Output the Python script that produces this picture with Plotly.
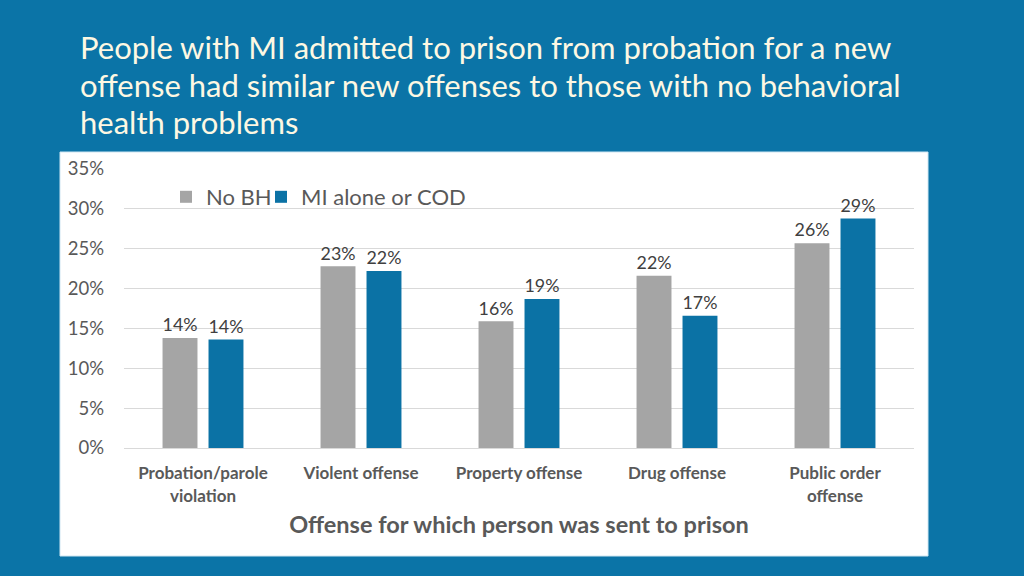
import plotly.graph_objects as go

categories = ["Probation/parole<br>violation", "Violent offense", "Property offense",
              "Drug offense", "Public order<br>offense"]
no_bh = [0.138, 0.228, 0.159, 0.216, 0.257]
mi_cod = [0.136, 0.222, 0.187, 0.166, 0.288]
series_names = ["No BH", "MI alone or COD"]
y_ticks = [0, 0.05, 0.10, 0.15, 0.20, 0.25, 0.30, 0.35]
title_lines = ["People with MI admitted to prison from probation for a new",
               "offense had similar new offenses to those with no behavioral",
               "health problems"]

BG = "#0b74a7"
GRAY = "#a5a5a5"
BLUE = "#0b72a5"
FONT = "Lato, Open Sans, sans-serif"

PL, PR, PT, PB = 124, 914, 169, 448
PW, PH = PR - PL, PB - PT


def px_x(x):
    return (x - PL) / PW


def px_y(y):
    return (PB - y) / PH


fig = go.Figure()
for name, vals, col, lg in [(series_names[0], no_bh, GRAY, "legend"),
                            (series_names[1], mi_cod, BLUE, "legend2")]:
    fig.add_trace(go.Bar(
        x=categories, y=vals, name=name, marker=dict(color=col, line=dict(width=0)),
        texttemplate="%{y:.0%}", textposition="outside",
        textfont=dict(size=19, color="#404040", family=FONT),
        cliponaxis=False, legend=lg,
    ))

title_annots = [dict(
    text=line, xref="paper", yref="paper", x=px_x(78), y=px_y(yc),
    xanchor="left", yanchor="middle", align="left", showarrow=False,
    font=dict(size=31, color="#fdf8e3", family=FONT))
    for line, yc in zip(title_lines, [47, 85, 122])]

legend_style = dict(orientation="h", xanchor="left", yanchor="middle",
                    font=dict(size=22, color="#595959", family=FONT),
                    bgcolor="rgba(0,0,0,0)")

fig.update_layout(
    width=1024, height=576,
    paper_bgcolor=BG, plot_bgcolor="white",
    margin=dict(l=PL, r=1024 - PR, t=PT, b=576 - PB),
    barmode="group", bargap=0.418, bargroupgap=0.24,
    font=dict(family=FONT, color="#595959"),
    showlegend=True,
    legend=dict(x=px_x(166), y=px_y(197), **legend_style),
    legend2=dict(x=px_x(261), y=px_y(197), **legend_style),
    shapes=[dict(type="rect", xref="paper", yref="paper", layer="below",
                 x0=px_x(60), x1=px_x(928), y0=px_y(556), y1=px_y(152),
                 fillcolor="white", line=dict(color="#cfe6f2", width=1))],
    annotations=title_annots,
)

fig.update_xaxes(
    range=[-0.5, 4.5], showgrid=False, showline=True, linecolor="#d9d9d9", linewidth=1,
    ticks="", tickfont=dict(size=17, color="#595959", family=FONT),
    tickprefix="<b>", ticksuffix="</b>", ticklabelstandoff=10,
    title=dict(text="<b>Offense for which person was sent to prison</b>",
               font=dict(size=23.5, color="#595959", family=FONT), standoff=12),
)
fig.update_yaxes(
    range=[0, 0.35], tickvals=y_ticks, tickformat=".0%",
    showgrid=True, gridcolor="#d9d9d9", gridwidth=1, zeroline=False,
    tickfont=dict(size=18.5, color="#595959", family=FONT), ticks="",
    ticklabelstandoff=19,
)

fig.write_html("out.html", config={"displayModeBar": False},
               post_script="document.body.style.margin='0';")
